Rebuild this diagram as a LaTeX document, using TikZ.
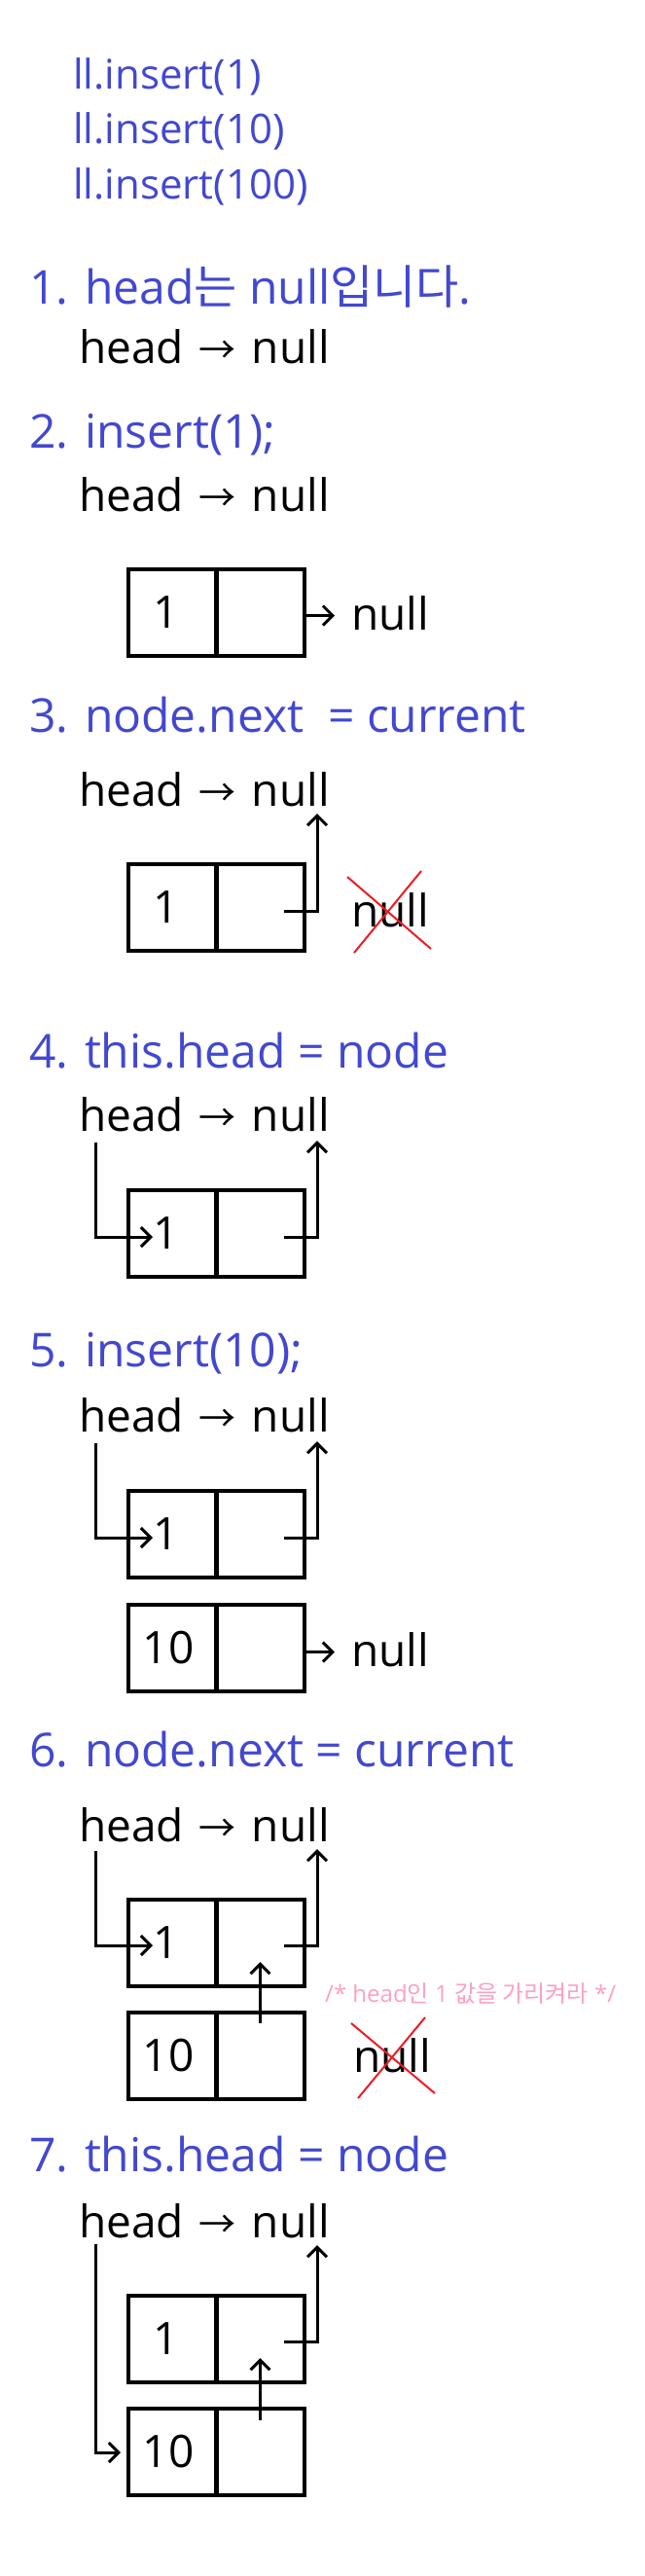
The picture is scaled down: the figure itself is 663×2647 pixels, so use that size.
\documentclass[tikz,border=0pt]{standalone}
\usepackage{fontspec}
\setmainfont{Open Sans}
\newfontfamily\cjk{Noto Sans CJK KR}
\usetikzlibrary{arrows.meta}
\definecolor{stepblue}{RGB}{66,72,208}
\definecolor{notepink}{RGB}{255,160,192}
\definecolor{crossred}{RGB}{237,28,36}
\newcommand{\nextarrow}{{\kern4pt\cjk\fontsize{38}{40}\selectfont →\kern4pt}}
\begin{document}
\begin{tikzpicture}[x=1pt, y=-1pt,
        code/.style={anchor=base west, inner sep=0pt, text=stepblue, font=\fontsize{42}{50}\selectfont},
        stephead/.style={anchor=base west, inner sep=0pt, text=stepblue, font=\fontsize{48}{56}\selectfont},
        txt/.style={anchor=base west, inner sep=0pt, font=\fontsize{46}{55}\selectfont},
        note/.style={anchor=base west, inner sep=0pt, text=notepink, font=\fontsize{24}{28}\selectfont},
        cell/.style={draw, line width=4.5pt, minimum width=90.5pt, minimum height=89pt,
            inner sep=0pt, outer sep=0pt, font=\fontsize{46}{55}\selectfont},
        ptr/.style={line width=3pt, -{Straight Barb[length=10pt, width=20pt]}},
        cross/.style={draw=crossred, line width=2pt}]
        \useasboundingbox (0,0) rectangle (663,2647);
        \fill[white] (0,0) rectangle (663,2647);
        % calls
        \node[code] (c1) at (75,91) {ll.insert(1)};
        \node[code] (c2) at (75,147) {ll.insert(10)};
        \node[code] (c3) at (75,204) {ll.insert(100)};
        % 1
        \node[stephead] (h1) at (30,312) {1. head{\cjk 는} null{\cjk 입니다}.};
        \node[txt] (hn1) at (81,373) {head \nextarrow{} null};
        % 2
        \node[stephead] (h2) at (30,460) {2. insert(1);};
        \node[txt] (hn2) at (81,525) {head \nextarrow{} null};
        \node[cell] (s2one) at (177,629.5) {\hspace*{-12pt}1};
        \node[cell, anchor=west] (s2onep) at (s2one.east) {};
        \node[txt] (null2) at (361,647) {null};
        \draw[ptr, shorten >=17pt] ([yshift=-3pt]s2onep.east) -- ([yshift=-3pt]s2onep.east -| null2.west);
        % 3
        \node[stephead] (h3) at (30,752) {3. node.next\ \ = current};
        \node[txt] (hn3) at (81,828) {head \nextarrow{} null};
        \node[cell] (s3one) at (177,932.5) {\hspace*{-12pt}1};
        \node[cell, anchor=west] (s3onep) at (s3one.east) {};
        \coordinate (p3) at (292,936);
        \coordinate (t3) at (326,836);
        \draw[ptr] (p3) -| (t3);
        \node[txt] (null3) at (361,952) {null};
        \draw[cross] (357,901) -- (443,975);
        \draw[cross] (364,979) -- (433,895);
        % 4
        \node[stephead] (h4) at (30,1097) {4. this.head = node};
        \node[txt] (hn4) at (81,1162) {head \nextarrow{} null};
        \node[cell] (s4one) at (177,1267.5) {\hspace*{-12pt}1};
        \node[cell, anchor=west] (s4onep) at (s4one.east) {};
        \coordinate (l4) at (98,1174);
        \coordinate (e4) at (157,1271);
        \coordinate (p4) at (292,1271);
        \coordinate (t4) at (326,1172);
        \draw[ptr] (l4) |- (e4);
        \draw[ptr] (p4) -| (t4);
        % 5
        \node[stephead] (h5) at (30,1404) {5. insert(10);};
        \node[txt] (hn5) at (81,1471) {head \nextarrow{} null};
        \node[cell] (s5one) at (177,1576.5) {\hspace*{-12pt}1};
        \node[cell, anchor=west] (s5onep) at (s5one.east) {};
        \node[cell] (s5ten) at (177,1693.5) {\hspace*{-8pt}10};
        \node[cell, anchor=west] (s5tenp) at (s5ten.east) {};
        \coordinate (l5) at (98,1483);
        \coordinate (e5) at (157,1580);
        \coordinate (p5) at (292,1580);
        \coordinate (t5) at (326,1481);
        \draw[ptr] (l5) |- (e5);
        \draw[ptr] (p5) -| (t5);
        \node[txt] (null5) at (361,1712) {null};
        \draw[ptr, shorten >=17pt] ([yshift=-4pt]s5tenp.east) -- ([yshift=-4pt]s5tenp.east -| null5.west);
        % 6
        \node[stephead] (h6) at (30,1815) {6. node.next = current};
        \node[txt] (hn6) at (81,1892) {head \nextarrow{} null};
        \node[cell] (s6one) at (177,1996.5) {\hspace*{-12pt}1};
        \node[cell, anchor=west] (s6onep) at (s6one.east) {};
        \node[cell] (s6ten) at (177,2112.5) {\hspace*{-8pt}10};
        \node[cell, anchor=west] (s6tenp) at (s6ten.east) {};
        \coordinate (l6) at (98,1902);
        \coordinate (e6) at (157,1999);
        \coordinate (p6) at (292,1999);
        \coordinate (t6) at (326,1900);
        \draw[ptr] (l6) |- (e6);
        \draw[ptr] (p6) -| (t6);
        \draw[ptr] ([yshift=-11pt]s6tenp.north) -- ([yshift=25pt]s6onep.south);
        \node[note] (n6) at (334,2057) {/* head{\cjk 인} 1 {\cjk 값을 가리켜라} */};
        \node[txt] (null6) at (363,2129) {null};
        \draw[cross] (361,2079) -- (447,2151);
        \draw[cross] (368,2156) -- (437,2073);
        % 7
        \node[stephead] (h7) at (30,2231) {7. this.head = node};
        \node[txt] (hn7) at (81,2299) {head \nextarrow{} null};
        \node[cell] (s7one) at (177,2403.5) {\hspace*{-12pt}1};
        \node[cell, anchor=west] (s7onep) at (s7one.east) {};
        \node[cell] (s7ten) at (177,2519.5) {\hspace*{-8pt}10};
        \node[cell, anchor=west] (s7tenp) at (s7ten.east) {};
        \coordinate (l7) at (98,2306);
        \coordinate (e7) at (124,2520);
        \coordinate (p7) at (292,2406);
        \coordinate (t7) at (326,2307);
        \draw[ptr] (l7) |- (e7);
        \draw[ptr] (p7) -| (t7);
        \draw[ptr] ([yshift=-12pt]s7tenp.north) -- ([yshift=25pt]s7onep.south);
        %\draw[ptr] (s7ten.west) -- (s7one.west);
    \end{tikzpicture}
\end{document}
